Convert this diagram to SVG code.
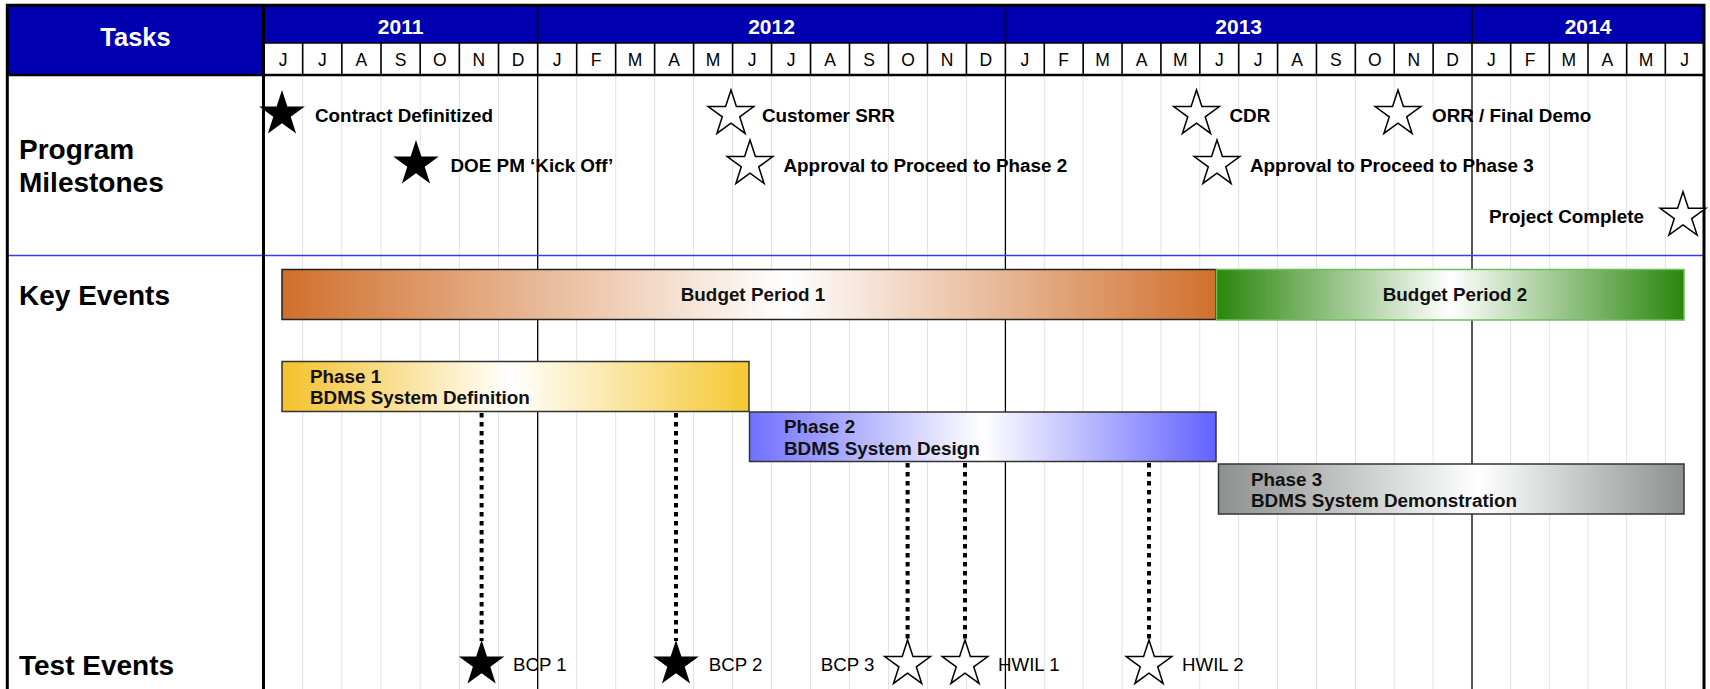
<svg xmlns="http://www.w3.org/2000/svg" width="1710" height="689" viewBox="0 0 1710 689">
<defs>
<style>
text { font-family: "Liberation Sans", Arial, sans-serif; }
.hdr { fill: #0000B0; }
.yr { font-size: 21px; font-weight: bold; fill: #fff; text-anchor: middle; }
.mo { font-size: 17.5px; fill: #000; text-anchor: middle; }
.tasks { font-size: 25.5px; font-weight: bold; fill: #fff; text-anchor: middle; }
.grid { stroke: #e2e2e2; stroke-width: 1; fill: none; }
.yline { stroke: #000; stroke-width: 1.3; fill: none; }
.mline { stroke: #000; stroke-width: 1.6; fill: none; }
.lbl { font-size: 28px; font-weight: bold; fill: #000; }
.ms { font-size: 18.85px; font-weight: bold; fill: #000; }
.te { font-size: 18.7px; fill: #000; }
.bt { font-size: 18.85px; font-weight: bold; fill: #111; }
.sf { fill: #000; }
.so { fill: #fff; stroke: #000; stroke-width: 1.5; }
.dot { stroke: #000; stroke-width: 4; stroke-dasharray: 4.5 4.5; fill: none; }
</style>
<path id="star" d="M0,-24 L5.389,-7.417 L22.825,-7.416 L8.719,2.833 L14.107,19.416 L0,9.168 L-14.107,19.416 L-8.719,2.833 L-22.825,-7.416 L-5.389,-7.417 Z"/>
<linearGradient id="gB1" x1="0" y1="0" x2="1" y2="0">
<stop offset="0" stop-color="#D0702C"/><stop offset="0.54" stop-color="#FFFFFF"/><stop offset="1" stop-color="#D0702C"/>
</linearGradient>
<linearGradient id="gB2" x1="0" y1="0" x2="1" y2="0">
<stop offset="0" stop-color="#2A860C"/><stop offset="0.5" stop-color="#FFFFFF"/><stop offset="1" stop-color="#2A860C"/>
</linearGradient>
<linearGradient id="gP1" x1="0" y1="0" x2="1" y2="0">
<stop offset="0" stop-color="#F5C12C"/><stop offset="0.49" stop-color="#FFFFFF"/><stop offset="1" stop-color="#F5C832"/>
</linearGradient>
<linearGradient id="gP2" x1="0" y1="0" x2="1" y2="0">
<stop offset="0" stop-color="#7070FF"/><stop offset="0.5" stop-color="#FFFFFF"/><stop offset="1" stop-color="#6262FF"/>
</linearGradient>
<linearGradient id="gP3" x1="0" y1="0" x2="1" y2="0">
<stop offset="0" stop-color="#8C908F"/><stop offset="0.56" stop-color="#FFFFFF"/><stop offset="1" stop-color="#8C908F"/>
</linearGradient>
</defs>

<rect x="0" y="0" width="1710" height="689" fill="#fff"/>

<g id="grid">
<path class="grid" d="M302.67,76V689M341.84,76V689M381.01,76V689M420.18,76V689M459.35,76V689M498.52,76V689
M576.68,76V689M615.65,76V689M654.63,76V689M693.6,76V689M732.58,76V689M771.55,76V689M810.53,76V689M849.5,76V689M888.48,76V689M927.45,76V689M966.43,76V689
M1044.28,76V689M1083.17,76V689M1122.05,76V689M1160.93,76V689M1199.82,76V689M1238.7,76V689M1277.58,76V689M1316.47,76V689M1355.35,76V689M1394.23,76V689M1433.12,76V689
M1510.67,76V689M1549.33,76V689M1588,76V689M1626.67,76V689M1665.33,76V689"/>
<path class="yline" d="M537.7,76V689M1005.4,76V689M1472,76V689"/>
<line x1="7" y1="255.5" x2="1704" y2="255.5" stroke="#3A3AF0" stroke-width="1.6"/>
</g>

<g id="header">
<rect class="hdr" x="7" y="5" width="1697" height="38"/>
<rect class="hdr" x="7" y="43" width="256.5" height="32"/>
<rect x="263.5" y="43" width="1440.5" height="32" fill="#fff"/>
<text class="tasks" x="135.5" y="46">Tasks</text>
<path class="mline" d="M537.7,5V43M1005.4,5V43M1472,5V43M263.5,43H1704"/>
<path class="mline" d="M302.67,43V75M341.84,43V75M381.01,43V75M420.18,43V75M459.35,43V75M498.52,43V75M537.7,43V75
M576.68,43V75M615.65,43V75M654.63,43V75M693.6,43V75M732.58,43V75M771.55,43V75M810.53,43V75M849.5,43V75M888.48,43V75M927.45,43V75M966.43,43V75M1005.4,43V75
M1044.28,43V75M1083.17,43V75M1122.05,43V75M1160.93,43V75M1199.82,43V75M1238.7,43V75M1277.58,43V75M1316.47,43V75M1355.35,43V75M1394.23,43V75M1433.12,43V75M1472,43V75
M1510.67,43V75M1549.33,43V75M1588,43V75M1626.67,43V75M1665.33,43V75"/>
<text class="yr" x="400.6" y="34">2011</text>
<text class="yr" x="771.55" y="34">2012</text>
<text class="yr" x="1238.7" y="34">2013</text>
<text class="yr" x="1588" y="34">2014</text>
<text class="mo" y="66"><tspan x="283.1">J</tspan><tspan x="322.3">J</tspan><tspan x="361.4">A</tspan><tspan x="400.6">S</tspan><tspan x="439.8">O</tspan><tspan x="478.9">N</tspan><tspan x="518.1">D</tspan><tspan x="557.2">J</tspan><tspan x="596.2">F</tspan><tspan x="635.1">M</tspan><tspan x="674.1">A</tspan><tspan x="713.1">M</tspan><tspan x="752.1">J</tspan><tspan x="791">J</tspan><tspan x="830">A</tspan><tspan x="869">S</tspan><tspan x="908">O</tspan><tspan x="947">N</tspan><tspan x="985.9">D</tspan><tspan x="1024.8">J</tspan><tspan x="1063.7">F</tspan><tspan x="1102.6">M</tspan><tspan x="1141.5">A</tspan><tspan x="1180.4">M</tspan><tspan x="1219.3">J</tspan><tspan x="1258.1">J</tspan><tspan x="1297">A</tspan><tspan x="1335.9">S</tspan><tspan x="1374.8">O</tspan><tspan x="1413.7">N</tspan><tspan x="1452.6">D</tspan><tspan x="1491.3">J</tspan><tspan x="1530">F</tspan><tspan x="1568.7">M</tspan><tspan x="1607.3">A</tspan><tspan x="1646">M</tspan><tspan x="1684.7">J</tspan></text>
<line x1="7" y1="75" x2="1704" y2="75" stroke="#000" stroke-width="2.5"/>
</g>

<g id="frame">
<line x1="263.5" y1="5" x2="263.5" y2="689" stroke="#000" stroke-width="3"/>
<path d="M7.3,689V5.3H1704V689" fill="none" stroke="#000" stroke-width="3"/>
</g>

<g id="row-labels">
<text class="lbl" x="19" y="159">Program</text>
<text class="lbl" x="19" y="192">Milestones</text>
<text class="lbl" x="19" y="305">Key Events</text>
<text class="lbl" x="19" y="675">Test Events</text>
</g>

<g id="milestones">
<g id="m-contract"><use href="#star" class="sf" x="282" y="114"/><text class="ms" x="315" y="121.5">Contract Definitized</text></g>
<g id="m-doe"><use href="#star" class="sf" x="416" y="164"/><text class="ms" x="450.5" y="172">DOE PM ‘Kick Off’</text></g>
<g id="m-srr"><use href="#star" class="so" x="731" y="114"/><text class="ms" x="762" y="121.5">Customer SRR</text></g>
<g id="m-atp2"><use href="#star" class="so" x="750" y="164"/><text class="ms" x="783.5" y="172">Approval to Proceed to Phase 2</text></g>
<g id="m-cdr"><use href="#star" class="so" x="1196.5" y="114"/><text class="ms" x="1229.5" y="121.5">CDR</text></g>
<g id="m-atp3"><use href="#star" class="so" x="1217" y="164"/><text class="ms" x="1250" y="172">Approval to Proceed to Phase 3</text></g>
<g id="m-orr"><use href="#star" class="so" x="1398" y="114"/><text class="ms" x="1432" y="121.5">ORR / Final Demo</text></g>
<g id="m-complete"><use href="#star" class="so" x="1683" y="215.7"/><text class="ms" x="1644" y="223" text-anchor="end">Project Complete</text></g>
</g>

<g id="connectors">
<path class="dot" d="M481.6,413V641M676,413V641M907.6,463V641M965,463V641M1149,463V641"/>
</g>

<g id="budget-1"><rect x="282" y="269.5" width="934" height="50" fill="url(#gB1)" stroke="#222" stroke-width="1.5"/><text class="bt" x="753" y="301" text-anchor="middle">Budget Period 1</text></g>
<g id="budget-2"><rect x="1216.5" y="269.5" width="467.5" height="50.5" fill="url(#gB2)" stroke="#6CBF5A" stroke-width="1.5"/><text class="bt" x="1455" y="301" text-anchor="middle">Budget Period 2</text></g>
<g id="phase-1"><rect x="282" y="361.5" width="467" height="50" fill="url(#gP1)" stroke="#333" stroke-width="1.5"/><text class="bt" x="310" y="382.5">Phase 1</text><text class="bt" x="310" y="404">BDMS System Definition</text></g>
<g id="phase-2"><rect x="749.5" y="412" width="466.5" height="49.5" fill="url(#gP2)" stroke="#333" stroke-width="1.5"/><text class="bt" x="784" y="433">Phase 2</text><text class="bt" x="784" y="455">BDMS System Design</text></g>
<g id="phase-3"><rect x="1218.5" y="464" width="465.5" height="50" fill="url(#gP3)" stroke="#333" stroke-width="1.5"/><text class="bt" x="1251" y="485.5">Phase 3</text><text class="bt" x="1251" y="507">BDMS System Demonstration</text></g>

<g id="test-events">
<g id="t-bcp1"><use href="#star" class="sf" x="481.6" y="664"/><text class="te" x="513" y="670.5">BCP 1</text></g>
<g id="t-bcp2"><use href="#star" class="sf" x="676" y="664"/><text class="te" x="708.7" y="670.5">BCP 2</text></g>
<g id="t-bcp3"><use href="#star" class="so" x="907.6" y="664"/><text class="te" x="874.5" y="670.5" text-anchor="end">BCP 3</text></g>
<g id="t-hwil1"><use href="#star" class="so" x="965" y="664"/><text class="te" x="998" y="670.5">HWIL 1</text></g>
<g id="t-hwil2"><use href="#star" class="so" x="1149" y="664"/><text class="te" x="1182" y="670.5">HWIL 2</text></g>
</g>
</svg>
